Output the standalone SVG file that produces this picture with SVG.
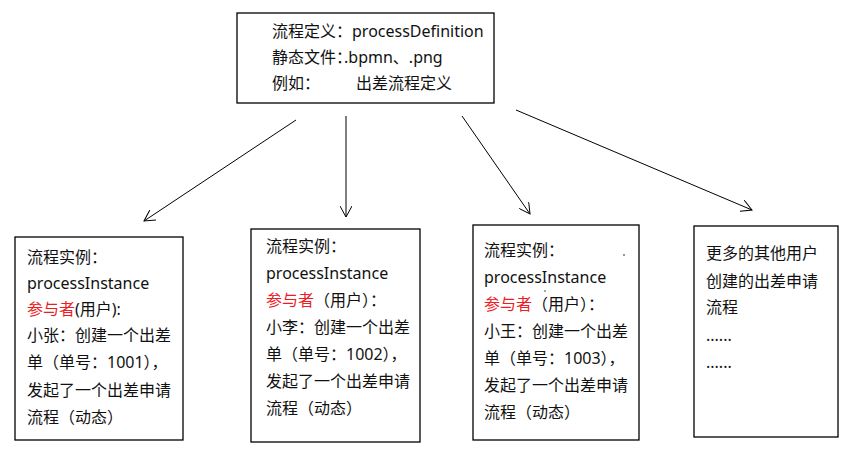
<svg xmlns="http://www.w3.org/2000/svg" width="855" height="454" viewBox="0 0 855 454">
<style>
.box{fill:#fff;stroke:#000;stroke-width:1.3}
text{font-family:"Noto Sans","Noto Sans CJK SC",sans-serif;font-size:16px;fill:#111}
.red{fill:#ee1c25}
.halt{font-feature-settings:"halt"}
.edge{stroke:#000;stroke-width:1;fill:none;marker-end:url(#arr)}
</style>
<defs>
<marker id="arr" viewBox="0 0 12 12" refX="11" refY="6" markerWidth="12" markerHeight="12" markerUnits="userSpaceOnUse" orient="auto">
<path d="M0,0 L11,6 L0,12" fill="none" stroke="#000" stroke-width="1"/>
</marker>
</defs>
<rect width="855" height="454" fill="#fff"/>
<g id="top">
<rect class="box" x="237" y="13" width="257" height="90"/>
<text x="272" y="37">流程定义：</text><text x="352" y="37">processDefinition</text>
<text x="272" y="63">静态文件<tspan class="halt">：</tspan>.bpmn、.png</text>
<text x="272" y="89">例如：</text><text x="356" y="89">出差流程定义</text>
</g>
<g id="inst1">
<rect class="box" x="15" y="237" width="168" height="203"/>
<text x="27" y="263">流程实例：</text>
<text x="27" y="289">processInstance</text>
<text x="27" y="315"><tspan class="red">参与者</tspan>(用户):</text>
<text x="27" y="341">小张：创建一个出差</text>
<text x="27" y="368">单（单号：1001），</text>
<text x="27" y="396">发起了一个出差申请</text>
<text x="27" y="423">流程（动态）</text>
</g>
<g id="inst2">
<rect class="box" x="251" y="229" width="169" height="213"/>
<text x="266" y="252">流程实例：</text>
<text x="266" y="279">processInstance</text>
<text x="266" y="306"><tspan class="red">参与者</tspan>（用户）：</text>
<text x="266" y="333">小李：创建一个出差</text>
<text x="266" y="360">单（单号：1002），</text>
<text x="266" y="387">发起了一个出差申请</text>
<text x="266" y="414">流程（动态）</text>
</g>
<g id="inst3">
<rect class="box" x="473" y="225" width="166" height="215"/>
<text x="484" y="256">流程实例：</text>
<circle cx="624" cy="255" r="0.8" fill="#111"/>
<text x="484" y="283">processInstance</text>
<circle cx="545" cy="291" r="0.7" fill="#111"/>
<text x="484" y="310"><tspan class="red">参与者</tspan>（用户）：</text>
<text x="484" y="337">小王：创建一个出差</text>
<text x="484" y="364">单（单号：1003），</text>
<text x="484" y="391">发起了一个出差申请</text>
<text x="484" y="418">流程（动态）</text>
</g>
<g id="more">
<rect class="box" x="694" y="226" width="144" height="211"/>
<text x="706" y="259">更多的其他用户</text>
<text x="706" y="287">创建的出差申请</text>
<text x="706" y="313">流程</text>
<text x="706" y="341">......</text>
<text x="706" y="368">......</text>
</g>
<g id="connectors">
<line class="edge" x1="296" y1="120" x2="144" y2="221"/>
<line class="edge" x1="346" y1="116" x2="346" y2="217"/>
<line class="edge" x1="462" y1="116" x2="530" y2="214"/>
<line class="edge" x1="516" y1="110" x2="752" y2="210"/>
</g>
</svg>
